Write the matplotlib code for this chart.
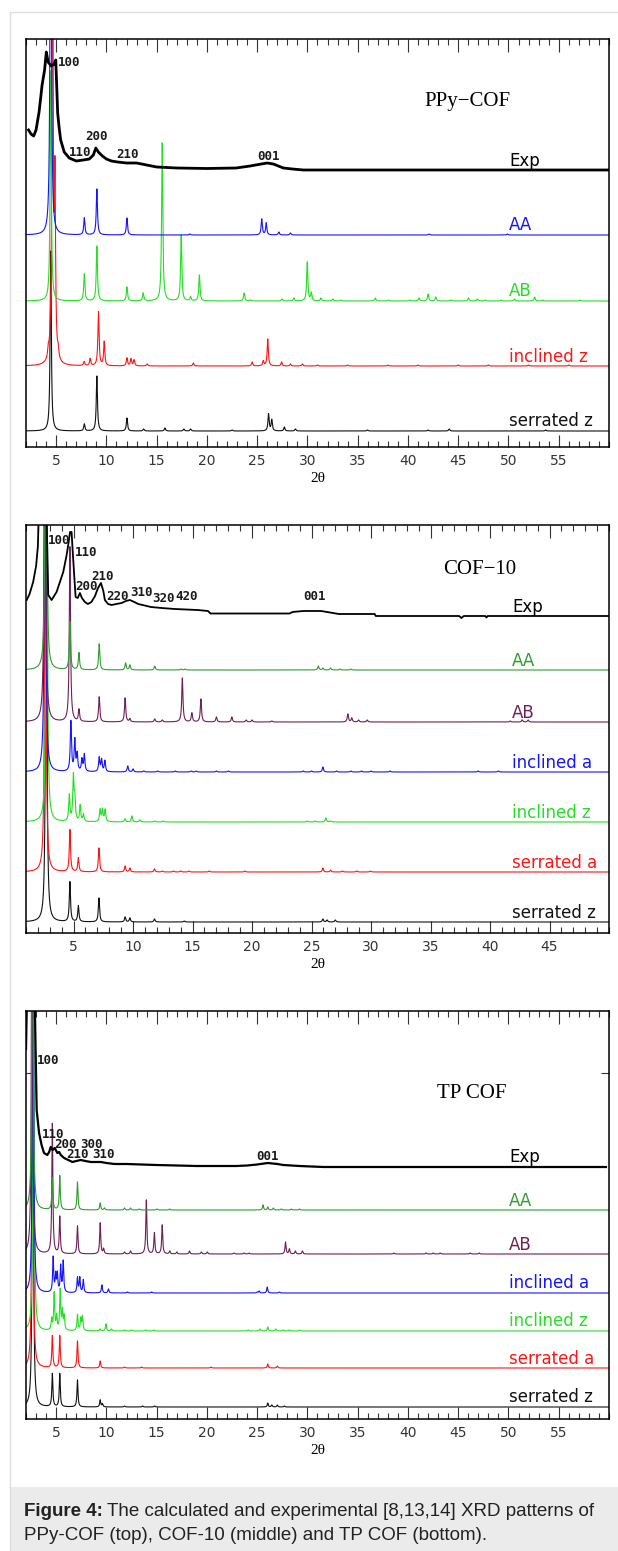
import numpy as np
import matplotlib
matplotlib.use("Agg")
import matplotlib.pyplot as plt
from matplotlib.lines import Line2D
from matplotlib.patches import Rectangle
from matplotlib.ticker import MultipleLocator

# all intensities are read off the figure, in pixels above each trace's own baseline
# peaks are (2theta, height)

# ---------------- PPy-COF (top) ----------------
ppy_exp_2t = [2.25, 2.5, 2.76, 3.0, 3.3, 3.47, 3.6, 3.85, 4.02, 4.2, 4.5, 4.8, 4.96, 5.07,
              5.15, 5.3, 5.45, 5.8, 6.3, 7.0, 7.7, 8.3, 8.7, 8.95, 9.2, 9.6, 10.0, 10.5,
              11.1, 12.0, 13.0, 14.0, 15.0, 17.0, 20.0, 22.9, 24.3, 25.4, 26.0, 26.6,
              27.6, 28.5, 29.6, 60.0]
ppy_exp_int = [40, 36, 34, 40, 58, 73, 85, 100, 118, 108, 104, 106, 110, 80,
               57, 42, 30, 18, 12, 9, 10, 11, 15, 22, 18, 14, 11, 9,
               8, 7, 7, 5, 3, 2, 1.5, 2, 4, 6, 7, 6,
               2, 1, 0, 0]
ppy_aa = [(4.46, 500), (7.8, 17), (9.05, 46), (12.04, 17), (18.3, 1), (25.45, 16),
          (25.9, 12), (27.15, 3), (28.3, 2), (42.1, 1), (49.9, 1)]
ppy_ab = [(4.46, 230), (7.8, 27), (9.05, 55), (12.04, 14), (13.66, 8), (15.55, 158),
          (17.44, 66), (18.37, 4), (19.25, 26), (23.7, 8), (24.3, 1), (27.47, 2),
          (28.65, 3), (29.98, 39), (30.38, 8), (31.35, 3), (32.55, 2), (33.3, 1),
          (36.75, 3), (38.05, 1), (40.2, 1), (41.1, 3), (42.0, 7), (42.77, 4),
          (44.3, 1), (46.02, 3), (46.9, 2), (47.7, 1), (49.26, 1), (50.6, 2),
          (52.6, 4), (53.4, 1), (57.1, 1)]
ppy_inc_z = [(4.22, 8), (4.64, 500), (4.88, 170), (5.2, 8), (7.78, 4), (8.38, 7),
             (9.21, 54), (9.78, 24), (12.04, 8), (12.44, 7), (12.75, 6), (14.05, 2),
             (18.65, 3), (24.5, 4), (25.6, 5), (26.05, 27), (27.43, 4), (28.3, 2),
             (29.5, 2), (31.0, 1), (34.0, 1), (38.0, 1), (41.0, 1), (45.0, 1),
             (48.0, 1), (52.0, 1), (56.0, 1)]
ppy_ser_z = [(4.46, 180), (7.8, 7), (9.05, 55), (12.04, 13), (13.7, 2), (15.82, 3),
             (17.7, 2), (18.37, 2), (22.5, 1), (26.13, 17), (26.45, 11), (27.7, 4),
             (28.8, 2), (35.97, 1), (42.0, 1), (44.1, 2), (53.7, 1)]

# ---------------- COF-10 (middle) ----------------
cof_exp_2t = [1.06, 1.3, 1.6, 1.85, 2.0, 2.17, 2.3, 2.45, 2.6, 2.75, 2.87, 3.15, 3.57,
              4.13, 4.4, 4.55, 4.7, 4.83, 4.95, 5.05, 5.17, 5.35, 5.53, 5.7, 5.95,
              6.2, 6.5, 6.8, 7.05, 7.3, 7.5, 7.63, 7.9, 8.19, 8.6, 9.03, 9.4, 9.73,
              10.1, 10.43, 10.8, 11.5, 12.4, 13.5, 15.4, 16.3, 16.5, 23.15, 23.4, 24.3,
              25.8, 26.3, 27.3, 30.3, 30.4, 37.4, 37.6, 37.8, 39.6, 39.7, 39.8, 50.0]
cof_exp_int = [16, 22, 34, 50, 70, 150, 350, 400, 300, 90, 21, 16, 24,
               44, 60, 71, 84, 84, 60, 41, 19, 18, 23, 18, 14,
               12, 14, 20, 28, 33, 25, 16, 12, 11, 12, 13, 15, 16,
               14, 12, 11, 9, 8, 7, 6, 5, 2.5, 2.5, 4, 5,
               5, 4, 2, 2, 0, 0, -2, 0, 0, -1.5, 0, 0]
cof_aa = [(2.67, 500), (4.69, 48), (5.45, 17), (7.15, 26), (9.37, 7), (9.73, 5),
          (11.82, 4), (14.04, 1), (14.37, 1), (25.57, 4), (25.95, 2), (26.6, 2),
          (27.4, 1), (28.3, 1)]
cof_ab = [(2.59, 500), (4.69, 175), (5.45, 12), (7.15, 25), (9.33, 24), (9.73, 3),
          (11.82, 3), (12.45, 2), (14.14, 44), (14.94, 9), (15.7, 23), (17.0, 5),
          (18.3, 5), (19.5, 2), (20.0, 2), (21.66, 1), (28.05, 8), (28.38, 4),
          (28.95, 2), (29.68, 2), (41.7, 1), (42.7, 2), (43.2, 2)]
cof_inc_a = [(2.6, 500), (4.77, 50), (5.1, 31), (5.3, 17), (5.7, 12), (5.9, 17),
             (7.15, 14), (7.35, 12), (7.63, 11), (9.55, 6), (10.0, 3), (10.9, 1),
             (12.06, 1), (13.55, 1), (14.87, 1), (15.3, 1), (17.0, 1), (18.0, 1),
             (24.3, 1), (25.0, 1), (25.95, 5), (27.1, 1), (28.3, 1), (29.2, 1),
             (30.0, 1), (31.6, 1), (39.0, 1), (40.7, 1)]
cof_inc_z = [(2.74, 500), (4.64, 26), (4.98, 44), (5.1, 21), (5.55, 16), (5.83, 7),
             (7.23, 12), (7.43, 12), (7.65, 12), (9.33, 3), (9.9, 6), (10.56, 2),
             (11.82, 1), (12.55, 1), (24.65, 1), (25.3, 1), (26.2, 4), (26.6, 1)]
cof_ser_a = [(2.62, 500), (4.69, 42), (5.4, 14), (7.13, 24), (9.33, 6), (9.73, 4),
             (11.8, 3), (12.45, 1), (13.4, 1), (14.0, 1), (14.7, 1), (16.4, 1),
             (19.4, 1), (25.95, 4), (26.6, 2), (27.6, 1), (28.8, 1), (29.95, 1)]
cof_ser_z = [(2.7, 500), (4.69, 40), (5.4, 16), (7.13, 24), (9.33, 5), (9.73, 4),
             (11.8, 3), (14.3, 1), (25.95, 3), (26.3, 2), (27.0, 2)]

# ---------------- TP COF (bottom) ----------------
tp_exp_2t = [2.0, 2.15, 2.3, 2.5, 2.75, 2.9, 3.06, 3.3, 3.55, 3.79, 4.12, 4.3, 4.46,
             4.65, 4.86, 5.12, 5.3, 5.46, 5.79, 6.2, 6.62, 7.0, 7.45, 7.9, 8.45, 9.0,
             9.45, 10.0, 10.8, 12.0, 15.0, 19.0, 22.9, 24.0, 25.0, 26.05, 27.0, 27.6,
             29.2, 31.6, 59.7]
tp_exp_int = [118, 200, 400, 420, 400, 150, 57, 34, 22, 14, 12, 15, 20,
              17, 19, 14, 15, 12, 9, 7, 5, 6, 7, 6, 5, 5,
              5, 4, 3, 3, 2, 1, 1, 1.5, 2.5, 4, 3, 2,
              1, 0, 0]
tp_aa = [(2.65, 500), (4.62, 32), (5.36, 34), (7.12, 28), (9.38, 7), (9.8, 2),
         (11.8, 2), (12.4, 2), (13.27, 1), (15.04, 1), (16.3, 1), (25.58, 5),
         (26.05, 3), (26.6, 2), (27.4, 1), (28.4, 1), (29.2, 1)]
tp_ab = [(2.6, 500), (4.62, 130), (5.36, 37), (7.12, 28), (9.38, 31), (9.72, 5),
         (11.8, 2), (12.4, 3), (13.97, 54), (14.77, 21), (15.55, 29), (16.3, 3),
         (17.0, 2), (18.26, 3), (19.44, 2), (20.03, 2), (22.7, 1), (23.7, 1),
         (24.2, 1), (27.82, 12), (28.2, 5), (28.8, 3), (29.5, 3), (38.6, 1),
         (41.8, 1), (42.5, 1), (43.2, 1), (46.2, 1), (47.1, 1)]
tp_inc_a = [(2.7, 500), (4.7, 35), (4.95, 17), (5.12, 18), (5.45, 26), (5.7, 31),
            (7.12, 15), (7.35, 15), (7.7, 13), (9.55, 8), (10.2, 4), (12.1, 1),
            (14.5, 1), (25.0, 1), (25.2, 2), (26.0, 6), (27.2, 1)]
tp_inc_z = [(2.75, 500), (4.55, 11), (4.8, 37), (5.05, 14), (5.4, 40), (5.62, 19),
            (5.8, 14), (7.12, 16), (7.45, 12), (7.62, 14), (9.38, 2), (9.95, 7),
            (10.5, 2), (11.8, 1), (12.5, 1), (13.9, 1), (14.7, 1), (24.1, 1),
            (25.3, 2), (26.05, 4), (26.85, 2), (27.6, 1), (28.2, 1), (29.2, 1)]
tp_ser_a = [(2.65, 500), (4.62, 32), (5.36, 32), (7.12, 27), (9.38, 7), (11.8, 1),
            (13.5, 1), (20.4, 1), (26.05, 4), (27.0, 2)]
tp_ser_z = [(2.68, 500), (4.62, 33), (5.36, 33), (7.12, 27), (9.38, 7), (9.6, 3),
            (11.8, 1), (13.6, 1), (14.8, 1), (26.05, 4), (26.45, 2), (27.0, 2),
            (27.7, 1)]

# reflection labels (hkl, 2theta of left edge, height)
ppy_hkl = [("100", 5.2, 384), ("200", 7.88, 310), ("110", 6.29, 294),
           ("210", 10.95, 292), ("001", 25.05, 291)]
cof_hkl = [("100", 2.87, 392), ("110", 5.11, 381), ("210", 6.45, 357),
           ("200", 5.11, 346), ("220", 7.77, 336), ("310", 9.75, 340),
           ("320", 11.6, 335), ("420", 13.55, 336), ("001", 24.3, 336)]
tp_hkl = [("100", 3.1, 359), ("110", 3.6, 284), ("200", 4.86, 274),
          ("300", 7.35, 275), ("210", 5.96, 264), ("310", 8.55, 264),
          ("001", 24.95, 263)]

W, H = 618.0, 1551.0
BLUE = "#1414ff"
LIME = "#22e022"
RED = "#ff1414"
DKGREEN = "#2f9e2f"
PURPLE = "#6e1f58"
BLACK = "#111111"


def lorentz(x, peaks, hwhm):
    y = np.zeros_like(x)
    for pos, h in peaks:
        y += h * hwhm ** 2 / ((x - pos) ** 2 + hwhm ** 2)
    return y


def setup(ax, xmin, xmax, majors):
    ax.set_xlim(xmin, xmax)
    ax.set_ylim(0, 408)
    ax.set_xticks(majors)
    ax.xaxis.set_minor_locator(MultipleLocator(1))
    ax.tick_params(axis="x", which="both", direction="in", top=True, bottom=True,
                   colors="#333333", labelsize=10, pad=5)
    ax.tick_params(axis="x", which="major", length=9, width=0.8)
    ax.tick_params(axis="x", which="minor", length=4.5, width=0.8)
    ax.set_yticks([])
    for s in ax.spines.values():
        s.set_linewidth(1.1)
    ax.text(0.5, -31 / 408, "2θ", transform=ax.transAxes, ha="center", va="center",
            family="Liberation Serif", fontsize=11)


def draw(ax, xmin, xmax, exp, sims, hwhm, label_x, exp_lw):
    x = np.linspace(xmin, xmax, 12000)
    for name, peaks, base, color in sims:
        ax.plot(x, base + lorentz(x, peaks, hwhm), color=color, lw=0.8)
        ax.text(label_x, base + 4.5, name, transform=ax.get_yaxis_transform(),
                color=color, fontsize=12, va="baseline", ha="left")
    name, ex, ey, base = exp
    ax.plot(ex, np.array(ey) + base, color="black", lw=exp_lw)
    ax.text(label_x, base + 4.5, name, transform=ax.get_yaxis_transform(),
            color="black", fontsize=12, va="baseline", ha="left")


def hkl(ax, labels):
    for txt, x0, y0 in labels:
        ax.text(x0, y0, txt, fontsize=9, family="DejaVu Sans Mono", fontweight="bold",
                ha="left", va="center", color="#1a1a1a")


fig = plt.figure(figsize=(W / 100, H / 100), dpi=100)

# page frame and caption box
fig.add_artist(Line2D([9.5 / W, 9.5 / W], [1 - 12 / H, 0], color="#dedede", lw=1))
fig.add_artist(Line2D([9.5 / W, 1], [1 - 12 / H, 1 - 12 / H], color="#dedede", lw=1))
fig.add_artist(Rectangle((9.5 / W, 0), 1, 64 / H, transform=fig.transFigure,
                         facecolor="#ebebeb", edgecolor="none"))


def panel(top, bottom):
    return fig.add_axes([26 / W, 1 - bottom / H, 583 / W, (bottom - top) / H])


# top panel
ax1 = panel(39, 447)
setup(ax1, 2, 60, list(range(5, 60, 5)))
draw(ax1, 2, 60, ("Exp", ppy_exp_2t, ppy_exp_int, 277),
     [("serrated z", ppy_ser_z, 16, BLACK),
      ("inclined z", ppy_inc_z, 81, RED),
      ("AB", ppy_ab, 146, LIME),
      ("AA", ppy_aa, 212, BLUE)],
     0.07, 0.829, 2.0)
hkl(ax1, ppy_hkl)
ax1.text(0.683, 0.846, "PPy\u2212COF", transform=ax1.transAxes, family="Liberation Serif",
         fontsize=15, ha="left", va="center")

# middle panel
ax2 = panel(525, 933)
setup(ax2, 1, 50, list(range(5, 50, 5)))
draw(ax2, 1, 50, ("Exp", cof_exp_2t, cof_exp_int, 317),
     [("serrated z", cof_ser_z, 11, BLACK),
      ("serrated a", cof_ser_a, 61, RED),
      ("inclined z", cof_inc_z, 111, LIME),
      ("inclined a", cof_inc_a, 161, BLUE),
      ("AB", cof_ab, 211, PURPLE),
      ("AA", cof_aa, 263, DKGREEN)],
     0.06, 0.834, 1.3)
hkl(ax2, cof_hkl)
ax2.text(0.715, 0.892, "COF\u221210", transform=ax2.transAxes, family="Liberation Serif",
         fontsize=15, ha="left", va="center")

# bottom panel
ax3 = panel(1011, 1419)
setup(ax3, 2, 60, list(range(5, 60, 5)))
ax3.set_yticks([346])
ax3.tick_params(axis="y", direction="in", left=True, right=True, length=6,
                width=0.8, labelleft=False, colors="#333333")
draw(ax3, 2, 60, ("Exp", tp_exp_2t, tp_exp_int, 252),
     [("serrated z", tp_ser_z, 12, BLACK),
      ("serrated a", tp_ser_a, 51, RED),
      ("inclined z", tp_inc_z, 88, LIME),
      ("inclined a", tp_inc_a, 126, BLUE),
      ("AB", tp_ab, 165, PURPLE),
      ("AA", tp_aa, 209, DKGREEN)],
     0.06, 0.829, 1.6)
hkl(ax3, tp_hkl)
ax3.text(0.705, 0.797, "TP COF", transform=ax3.transAxes, family="Liberation Serif",
         fontsize=15, ha="left", va="center")

# caption with bold lead
cap_y1 = 1 - 1511 / H
cap_y2 = 1 - 1535 / H
lead = fig.text(24.5 / W, cap_y1, "Figure 4:", family="Liberation Sans", fontweight="bold",
                fontsize=13.5, va="center", ha="left", color="#222222")
r = fig.canvas.get_renderer()
bb = lead.get_window_extent(r)
fig.text((bb.x1 + 4) / W, cap_y1,
         "The calculated and experimental [8,13,14] XRD patterns of",
         family="Liberation Sans", fontsize=13.5, va="center", ha="left", color="#222222")
fig.text(24.5 / W, cap_y2, "PPy-COF (top), COF-10 (middle) and TP COF (bottom).",
         family="Liberation Sans", fontsize=13.5, va="center", ha="left", color="#222222")

fig.savefig("out.png", dpi=100)
